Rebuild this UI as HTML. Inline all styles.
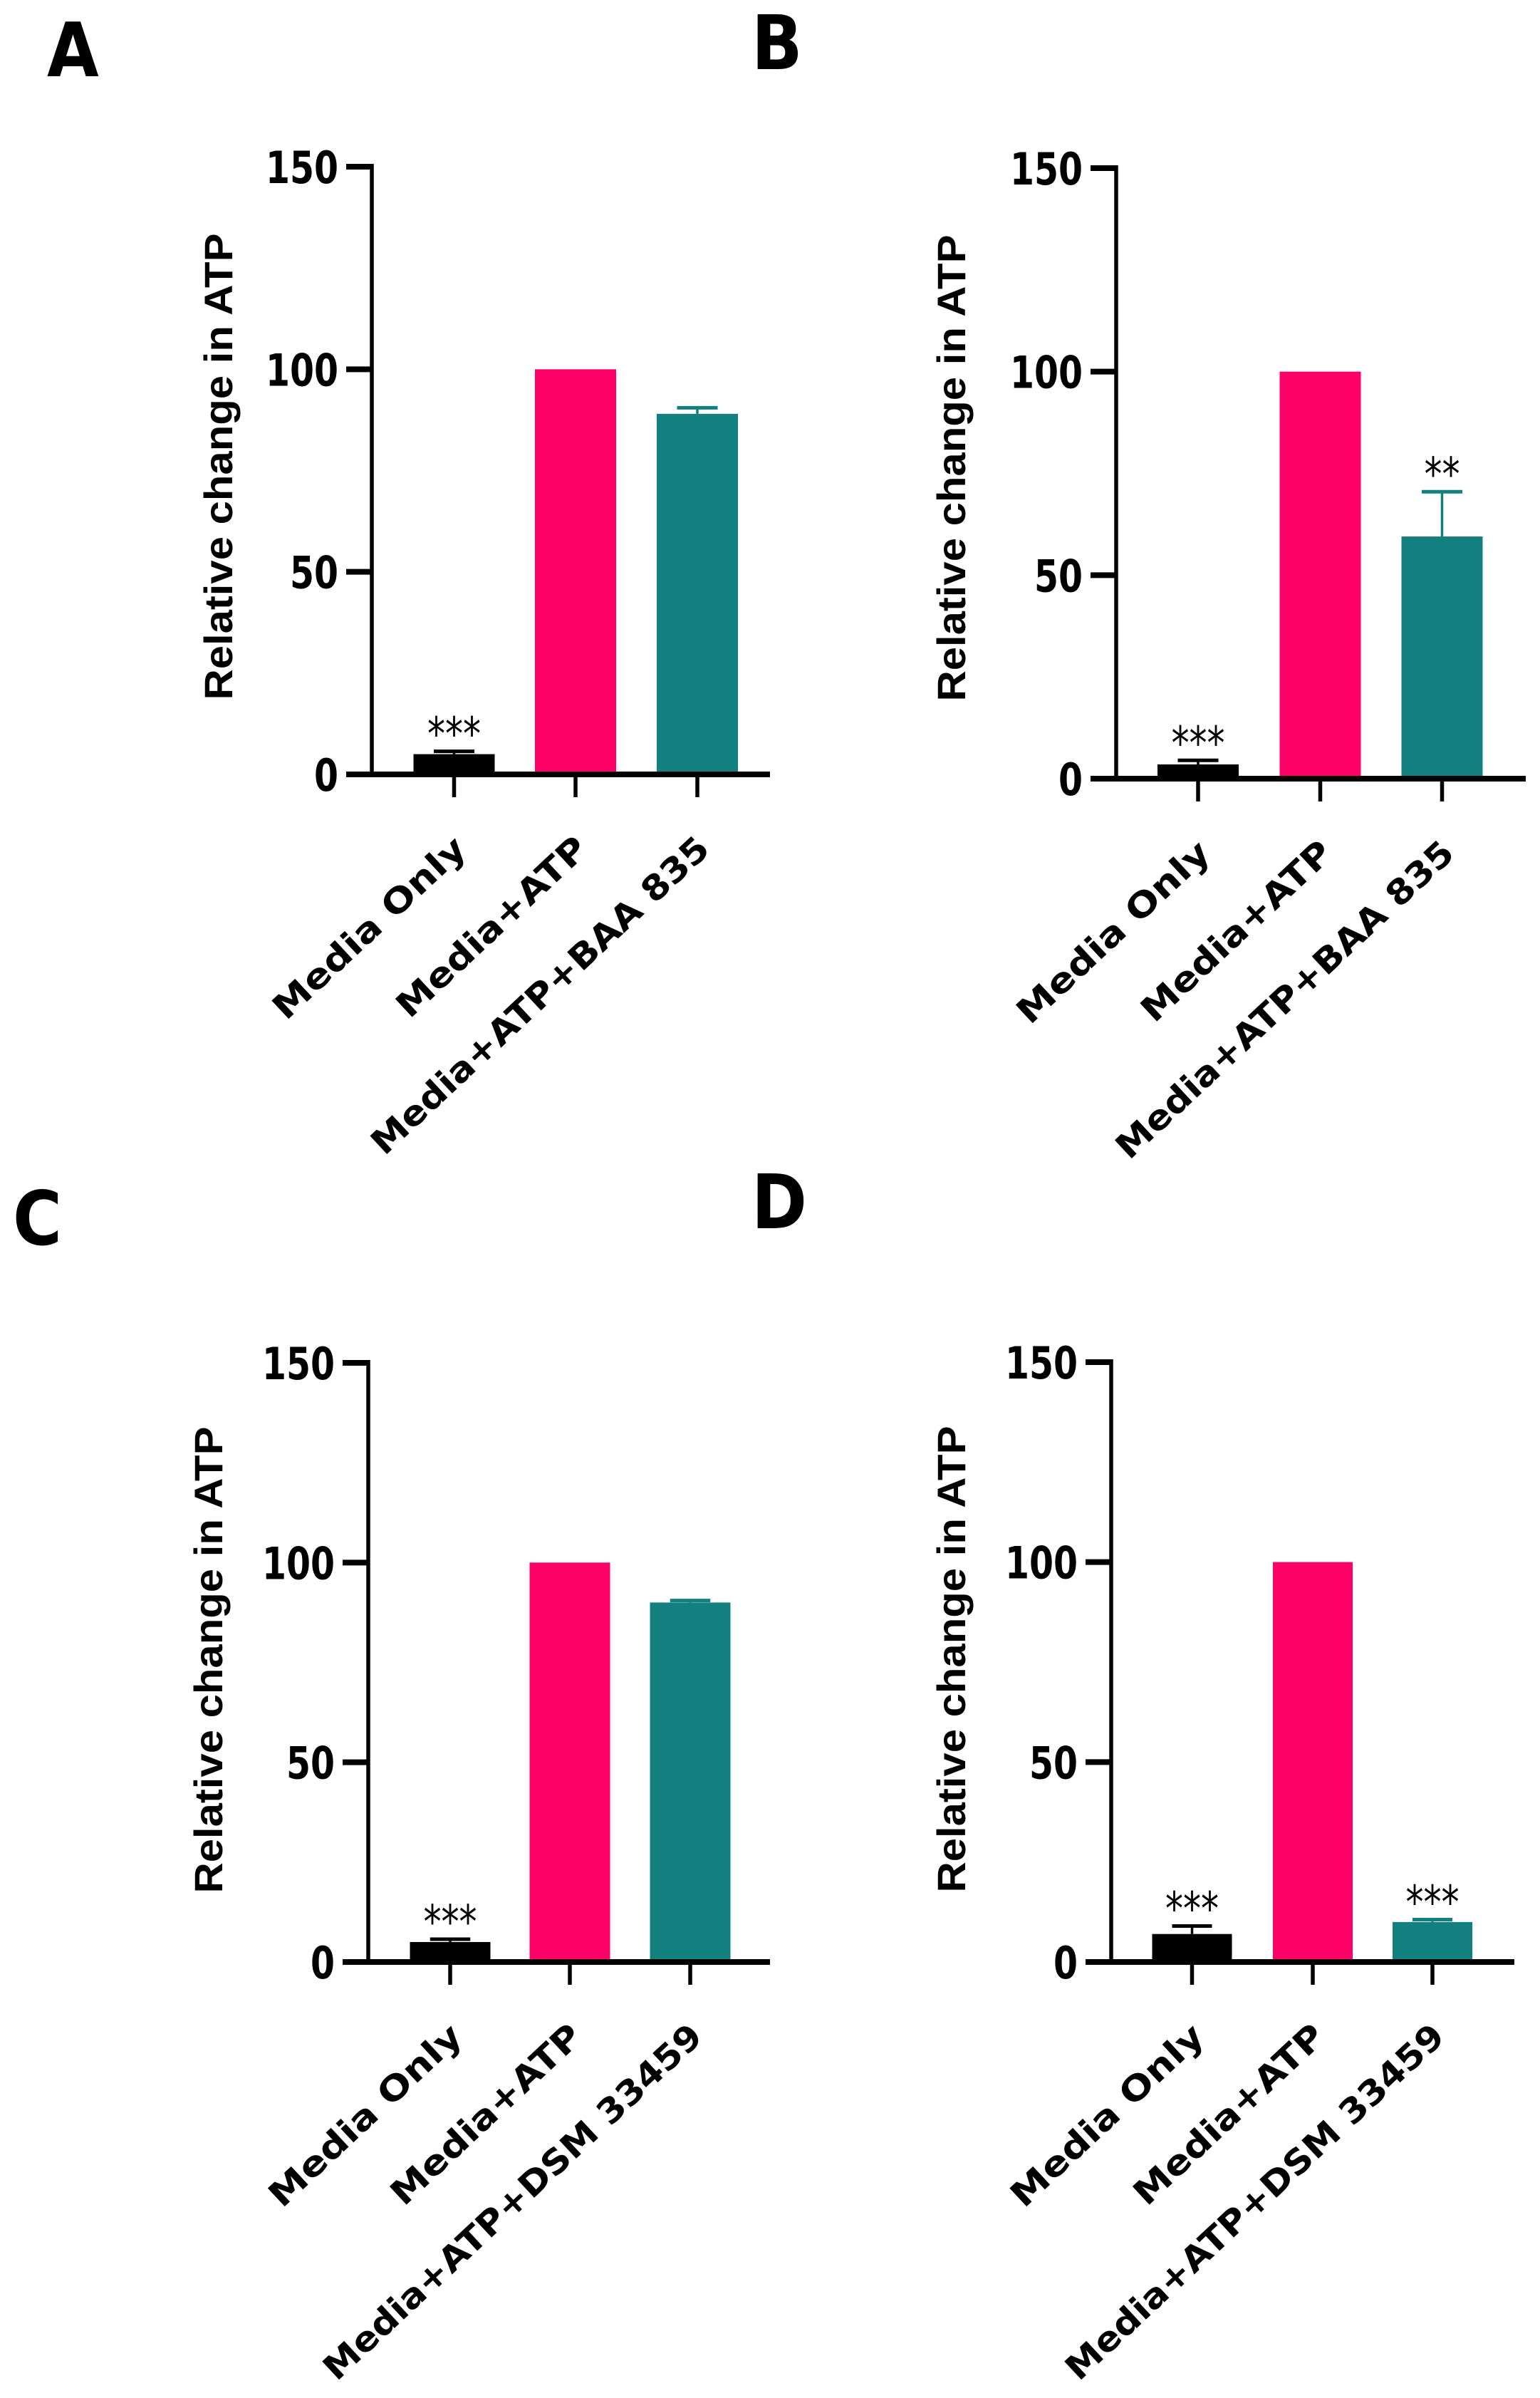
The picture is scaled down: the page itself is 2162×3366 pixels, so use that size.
<!DOCTYPE html>
<html><head><meta charset="utf-8"><style>
html,body{margin:0;padding:0;background:#fff;}
svg{display:block;}
</style></head><body>
<svg id="fig" width="2162" height="3366" viewBox="0 0 2162 3366" xmlns="http://www.w3.org/2000/svg"></svg>
<script>
const categoriesAB = ["Media Only","Media+ATP","Media+ATP+BAA 835"];
const categoriesCD = ["Media Only","Media+ATP","Media+ATP+DSM 33459"];
const valuesA = [5, 100, 89];
const errorsA = [5.7, 100, 90.5];
const valuesB = [3.5, 100, 59.5];
const errorsB = [4.5, 100, 70.5];
const valuesC = [5, 100, 90];
const errorsC = [5.7, 100, 90.5];
const valuesD = [7, 100, 10];
const errorsD = [9, 100, 10.6];
const sigA = ["***","",""];
const sigB = ["***","","**"];
const sigC = ["***","",""];
const sigD = ["***","","***"];
const yTicks = [0, 50, 100, 150];
const panelLetters = ["A","B","C","D"];

const NS = "http://www.w3.org/2000/svg";
const svg = document.getElementById("fig");
const colors = ["#000000","#FF0066","#11807F"];
const labelLen = {"Media Only":350,"Media+ATP":346,"Media+ATP+BAA 835":628,"Media+ATP+DSM 33459":706};

function mk(tag, attrs, parent){
  const e = document.createElementNS(NS, tag);
  for (const k in attrs) e.setAttribute(k, attrs[k]);
  (parent||svg).appendChild(e);
  return e;
}

function panel(cfg){
  const g = mk("g", {});
  
  
  const yScale = v => cfg.y0 - (cfg.y0 - cfg.y150) * v / 150;
  const xCenter = i => cfg.barX[i];
  const bw = cfg.barW;

  const L = mk("text", {x: 0, y: 0, transform: `translate(${cfg.letterX},${cfg.letterY}) scale(1,1.12)`, "font-family": "DejaVu Sans, sans-serif", "font-weight": "bold", "font-size": 94}, g);
  L.textContent = cfg.letter;
  
  

  const yt = mk("text", {x: 0, y: 0, transform: `translate(${cfg.titleX},${cfg.titleY}) rotate(-90)`, "text-anchor": "middle", "font-family": "Liberation Sans, sans-serif", "font-weight": "bold", "font-size": 56, textLength: 655, lengthAdjust: "spacingAndGlyphs"}, g);
  yt.textContent = "Relative change in ATP";
  
  

  cfg.values.forEach((v, i) => {
    const cx = xCenter(i);
    const top = yScale(v);
    const r = mk("rect", {x: cx - bw / 2, y: top, width: bw, height: cfg.y0 - top, fill: colors[i]}, g);
    
    
    const et = yScale(cfg.errors[i]);
    if (cfg.errors[i] > v + 0.3) {
      const ev = mk("line", {x1: cx, x2: cx, y1: top, y2: et, stroke: colors[i], "stroke-width": 3.5}, g);
      
      
      const ec = mk("line", {x1: cx - bw / 4, x2: cx + bw / 4, y1: et, y2: et, stroke: colors[i], "stroke-width": 5}, g);
      
      
    }
    if (cfg.sig[i]) {
      const s = mk("text", {x: cx, y: Math.min(et, top) - 2, "text-anchor": "middle", "font-family": "DejaVu Sans, sans-serif", "font-size": 64, textLength: cfg.sig[i].length * 25, lengthAdjust: "spacingAndGlyphs"}, g);
      s.textContent = cfg.sig[i];
      
      
    }
    const t = mk("line", {x1: cx, x2: cx, y1: cfg.y0, y2: cfg.y0 + 32, stroke: "#000", "stroke-width": 5.5}, g);
    
    
    const lab = cfg.cats[i];
    const xl = mk("text", {x: 0, y: 0, transform: `translate(${cx + 20},${cfg.y0 + 108}) rotate(-43)`, "text-anchor": "end", "font-family": "DejaVu Sans, sans-serif", "font-weight": "bold", "font-size": 48, textLength: labelLen[lab], lengthAdjust: "spacingAndGlyphs"}, g);
    xl.textContent = lab;
    
    
  });

  const ya = mk("line", {x1: cfg.ax, x2: cfg.ax, y1: cfg.y150 - 4, y2: cfg.y0 + 4, stroke: "#000", "stroke-width": 5.5}, g);
  
  
  const xa = mk("line", {x1: cfg.ax - 36, x2: cfg.axEnd, y1: cfg.y0, y2: cfg.y0, stroke: "#000", "stroke-width": 8}, g);
  
  
  yTicks.forEach(v => {
    const y = yScale(v);
    const tk = mk("line", {x1: cfg.ax - 36, x2: cfg.ax, y1: y, y2: y, stroke: "#000", "stroke-width": 8}, g);
    
    
    const s = String(v);
    const tl = mk("text", {x: 0, y: 0, transform: `translate(${cfg.ax - 47},${y + 23}) scale(1,1.28)`, "text-anchor": "end", "font-family": "DejaVu Sans, sans-serif", "font-weight": "bold", "font-size": 49, textLength: s.length * 34, lengthAdjust: "spacingAndGlyphs"}, g);
    tl.textContent = s;
    
    
  });
}

panel({letter: panelLetters[0], letterX: 66, letterY: 107, titleX: 326, titleY: 655, ax: 522, axEnd: 1081, y150: 234, y0: 1087, barX: [637.5, 808, 979], barW: 114, values: valuesA, errors: errorsA, sig: sigA, cats: categoriesAB});
panel({letter: panelLetters[1], letterX: 1055, letterY: 97, titleX: 1355, titleY: 657, ax: 1567, axEnd: 2142, y150: 236, y0: 1093, barX: [1682, 1853.5, 2024.5], barW: 114, values: valuesB, errors: errorsB, sig: sigB, cats: categoriesAB});
panel({letter: panelLetters[2], letterX: 18, letterY: 1747, titleX: 312, titleY: 2330, ax: 517, axEnd: 1081, y150: 1913, y0: 2754, barX: [632, 800, 969], barW: 113, values: valuesC, errors: errorsC, sig: sigC, cats: categoriesCD});
panel({letter: panelLetters[3], letterX: 1055, letterY: 1724, titleX: 1355, titleY: 2329, ax: 1560, axEnd: 2126, y150: 1912, y0: 2754, barX: [1673.5, 1843, 2011], barW: 112, values: valuesD, errors: errorsD, sig: sigD, cats: categoriesCD});
</script>
</body></html>
